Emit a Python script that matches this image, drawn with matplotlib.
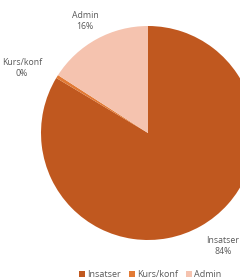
import matplotlib
matplotlib.use('Agg')
import matplotlib.pyplot as plt
from matplotlib.patches import Patch

categories = ['Insatser', 'Kurs/konf', 'Admin']
values = [83.6, 0.5, 15.9]
shown_pct = ['84%', '0%', '16%']
colors = ['#C0581F', '#E27A35', '#F5C3AF']

plt.rcParams['font.family'] = ['Open Sans', 'DejaVu Sans']

fig = plt.figure(figsize=(2.4, 2.8), dpi=100)
ax = fig.add_axes([0, 0, 1, 1])

ax.pie(values, colors=colors, startangle=90, counterclock=False,
       center=(148, 147), radius=107,
       wedgeprops={'linewidth': 0})

# pie() resets the limits, so set them afterwards
ax.set_xlim(0, 240)
ax.set_ylim(0, 280)
ax.set_aspect('equal')
ax.axis('off')

# slice labels
label_pos = {'Insatser': (223, 34), 'Kurs/konf': (22, 212), 'Admin': (85, 259)}
for name, pct in zip(categories, shown_pct):
    x, y = label_pos[name]
    ax.text(x, y, name + '\n' + pct, ha='center', va='center',
            fontsize=6.3, color='#595959', linespacing=1.25)

handles = [Patch(facecolor=c, edgecolor='none') for c in colors]
fig.legend(handles, categories, loc='lower center', bbox_to_anchor=(0.625, -0.025),
           ncol=3, frameon=False, fontsize=6.5, handlelength=0.7, handleheight=0.7,
           handletextpad=0.2, columnspacing=0.9, labelcolor='#595959')

fig.savefig('out.png', dpi=100)
